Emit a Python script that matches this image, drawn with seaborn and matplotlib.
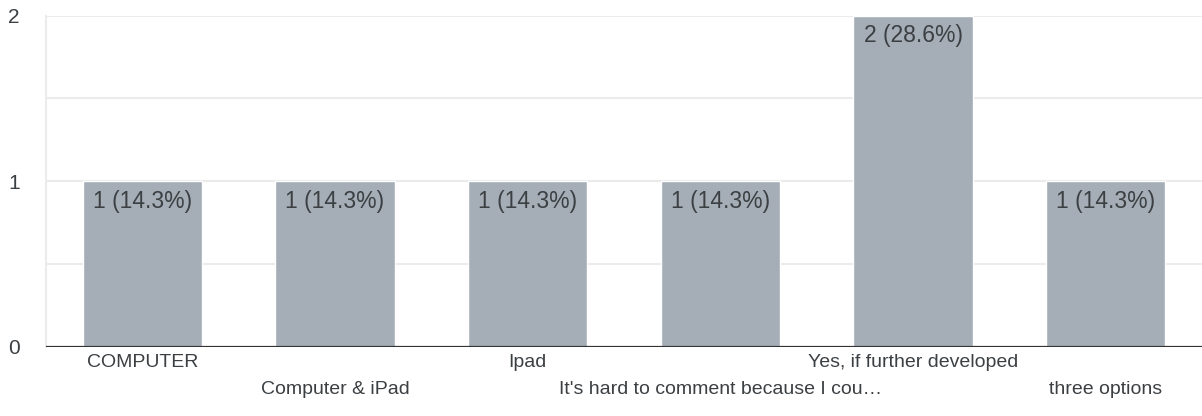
import matplotlib
matplotlib.use("Agg")
import matplotlib.pyplot as plt
import seaborn as sns
import pandas as pd

categories = ["COMPUTER", "Computer & iPad", "Ipad",
              "It's hard to comment because I cou\u2026",
              "Yes, if further developed", "three options"]
counts = [1, 1, 1, 1, 2, 1]
percents = ["14.3%", "14.3%", "14.3%", "14.3%", "28.6%", "14.3%"]
yticks = [0, 1, 2]

sns.set_theme(style="white")
plt.rcParams["font.family"] = ["Liberation Sans", "DejaVu Sans"]

BAR = "#a5aeb7"
TXT = "#3c4043"

df = pd.DataFrame({"cat": categories, "n": counts})

fig = plt.figure(figsize=(12.02, 4.16), dpi=100)
ax = fig.add_axes([46/1202, 69/416, 1 - 46/1202, (347 - 15.5)/416])

sns.barplot(data=df, x="cat", y="n", color=BAR, saturation=1, width=0.62, ax=ax)

ax.set_ylim(0, 2)
ax.set_xlim(-0.5, len(categories) - 0.5)
for g in [0.5, 1, 1.5, 2]:
    ax.axhline(g, color="#ebebeb", lw=1.5, zorder=0)
ax.axhline(0, color="#333333", lw=1.6, zorder=3)

for i, (c, p) in enumerate(zip(counts, percents)):
    ax.annotate(f"{c} ({p})", xy=(i, c), xytext=(0, -6), textcoords="offset points",
                ha="center", va="top", fontsize=16.5, color=TXT)

ax.set_yticks(yticks)
ax.set_yticklabels([str(t) for t in yticks], fontsize=15, color=TXT)
ax.set_xticks(range(len(categories)))
ax.set_xticklabels(categories, fontsize=14, color=TXT)
ax.tick_params(axis="y", length=0, pad=19)
ax.tick_params(axis="x", length=0)
for i, t in enumerate(ax.xaxis.get_major_ticks()):
    t.set_pad(5 if i % 2 == 0 else 24.5)
ax.set_xlabel("")
ax.set_ylabel("")

for s in ["top", "right", "bottom"]:
    ax.spines[s].set_visible(False)
ax.spines["left"].set_color("#ebebeb")
ax.spines["left"].set_linewidth(1.5)

fig.savefig("out.png", dpi=100, facecolor="white")
